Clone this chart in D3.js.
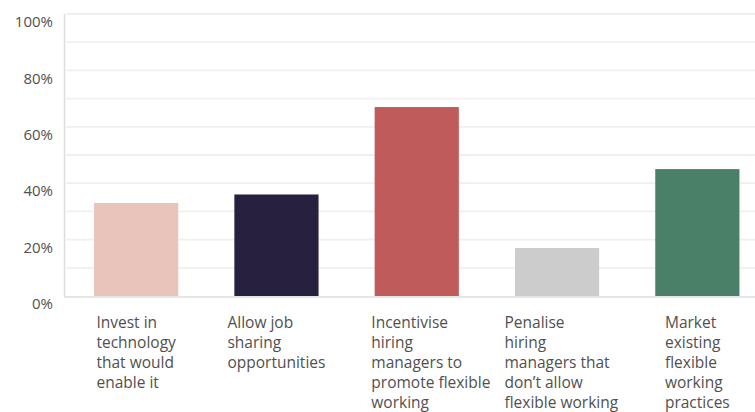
<!DOCTYPE html>
<html>
<head>
<meta charset="utf-8">
<script src="https://cdn.jsdelivr.net/npm/d3@7"></script>
<style>
  html, body { margin: 0; padding: 0; background: #fff; }
  svg { display: block; }
  text { font-family: "Open Sans", "Noto Sans", sans-serif; fill: #505050; }
</style>
</head>
<body>
<svg id="chart" width="755" height="412"></svg>
<script>
// Share of respondents choosing each measure
const categories = [
  ["Invest in", "technology", "that would", "enable it"],
  ["Allow job", "sharing", "opportunities"],
  ["Incentivise", "hiring", "managers to", "promote flexible", "working"],
  ["Penalise", "hiring", "managers that", "don\u2019t allow", "flexible working"],
  ["Market", "existing", "flexible", "working", "practices"]
];
const values = [33, 36, 67, 17, 45];
const colors = ["#e8c4bb", "#27213f", "#c05b5b", "#cccccc", "#4a7f68"];
const tickValues = [0, 20, 40, 60, 80, 100];
const gridValues = [10, 20, 30, 40, 50, 60, 70, 80, 90, 100];

const svg = d3.select("#chart");

const y = d3.scaleLinear().domain([0, 100]).range([296, 14]);
const x = d3.scaleBand()
  .domain(d3.range(values.length))
  .range([66, 767.5])
  .paddingInner(0.4)
  .paddingOuter(0.2);

// horizontal gridlines
svg.append("g")
  .selectAll("line")
  .data(gridValues)
  .join("line")
  .attr("x1", 66).attr("x2", 755)
  .attr("y1", d => y(d)).attr("y2", d => y(d))
  .attr("stroke", "#efefef")
  .attr("stroke-width", 1.8);

// bars
svg.append("g")
  .selectAll("rect")
  .data(values)
  .join("rect")
  .attr("x", (d, i) => x(i))
  .attr("width", x.bandwidth())
  .attr("y", d => y(d))
  .attr("height", d => y(0) - y(d))
  .attr("fill", (d, i) => colors[i]);

// y axis line and baseline
svg.append("line")
  .attr("x1", 64.5).attr("x2", 64.5)
  .attr("y1", 14).attr("y2", 297)
  .attr("stroke", "#dcdcdc").attr("stroke-width", 1.5);
svg.append("line")
  .attr("x1", 64).attr("x2", 755)
  .attr("y1", 297).attr("y2", 297)
  .attr("stroke", "#dcdcdc").attr("stroke-width", 1.5);

// y tick labels
svg.append("g")
  .selectAll("text")
  .data(tickValues)
  .join("text")
  .attr("x", 53)
  .attr("y", d => y(d) + 8)
  .attr("dy", "0.35em")
  .attr("text-anchor", "end")
  .style("font-size", "15px")
  .text(d => d + "%");

// category labels: left-aligned blocks centred under each bar;
// lines wider than the wrap width overflow to the right
const wrapWidth = x.step() * 0.8;
const labelGroups = svg.append("g")
  .selectAll("text")
  .data(categories)
  .join("text")
  .style("font-size", "15.5px");

labelGroups.each(function(lines, i) {
  const t = d3.select(this);
  t.selectAll("tspan")
    .data(lines)
    .join("tspan")
    .attr("y", (d, j) => 323 + j * 20)
    .attr("dy", "0.35em")
    .text(d => d);
  let blockW = 0;
  t.selectAll("tspan").each(function() {
    const w = this.getComputedTextLength();
    if (w <= wrapWidth) blockW = Math.max(blockW, w);
  });
  const left = x(i) + x.bandwidth() / 2 - blockW / 2;
  t.selectAll("tspan").attr("x", left);
});
</script>
</body>
</html>
